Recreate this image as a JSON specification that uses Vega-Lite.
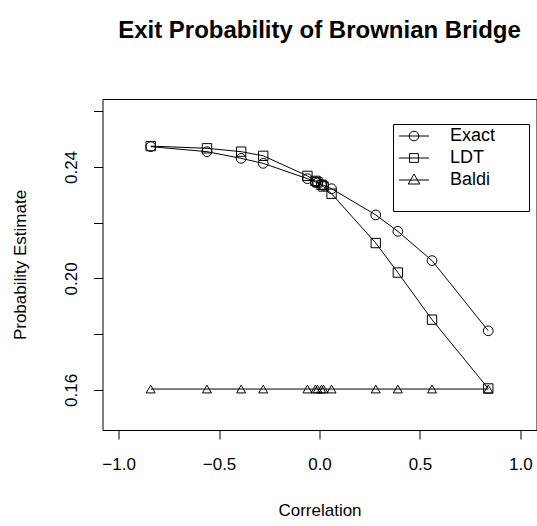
{
  "$schema": "https://vega.github.io/schema/vega-lite/v6.json",
  "width": 434,
  "height": 331,
  "autosize": {"type": "none"},
  "padding": {"left": 102.5, "top": 99, "right": 0.5, "bottom": 96},
  "background": "white",
  "config": {
    "font": "Liberation Sans",
    "view": {"stroke": "black", "strokeWidth": 1},
    "axis": {
      "grid": false,
      "domain": false,
      "ticks": true,
      "tickColor": "black",
      "tickSize": 9,
      "tickWidth": 1,
      "labelFont": "Liberation Sans",
      "labelFontSize": 17,
      "labelColor": "black",
      "titleFont": "Liberation Sans",
      "titleFontSize": 17,
      "titleFontWeight": "normal",
      "titleColor": "black"
    }
  },
  "title": {
    "text": "Exit Probability of Brownian Bridge",
    "font": "Liberation Sans",
    "fontSize": 24,
    "fontWeight": "bold",
    "color": "black",
    "anchor": "middle",
    "offset": 56
  },
  "data": {
    "values": [
      {"correlation": -0.84, "method": "Exact", "probability": 0.2473},
      {"correlation": -0.56, "method": "Exact", "probability": 0.2455},
      {"correlation": -0.39, "method": "Exact", "probability": 0.2431},
      {"correlation": -0.28, "method": "Exact", "probability": 0.2413},
      {"correlation": -0.06, "method": "Exact", "probability": 0.2358},
      {"correlation": -0.02, "method": "Exact", "probability": 0.2346},
      {"correlation": -0.01, "method": "Exact", "probability": 0.2343},
      {"correlation": 0.01, "method": "Exact", "probability": 0.2337},
      {"correlation": 0.02, "method": "Exact", "probability": 0.2334},
      {"correlation": 0.06, "method": "Exact", "probability": 0.2322},
      {"correlation": 0.28, "method": "Exact", "probability": 0.2228},
      {"correlation": 0.39, "method": "Exact", "probability": 0.2169},
      {"correlation": 0.56, "method": "Exact", "probability": 0.2064},
      {"correlation": 0.84, "method": "Exact", "probability": 0.1812},
      {"correlation": -0.84, "method": "LDT", "probability": 0.2475},
      {"correlation": -0.56, "method": "LDT", "probability": 0.2467},
      {"correlation": -0.39, "method": "LDT", "probability": 0.2455},
      {"correlation": -0.28, "method": "LDT", "probability": 0.244},
      {"correlation": -0.06, "method": "LDT", "probability": 0.2368},
      {"correlation": -0.02, "method": "LDT", "probability": 0.235},
      {"correlation": -0.01, "method": "LDT", "probability": 0.2345},
      {"correlation": 0.01, "method": "LDT", "probability": 0.2336},
      {"correlation": 0.02, "method": "LDT", "probability": 0.233},
      {"correlation": 0.06, "method": "LDT", "probability": 0.2304},
      {"correlation": 0.28, "method": "LDT", "probability": 0.2127},
      {"correlation": 0.39, "method": "LDT", "probability": 0.2021},
      {"correlation": 0.56, "method": "LDT", "probability": 0.1852},
      {"correlation": 0.84, "method": "LDT", "probability": 0.1605},
      {"correlation": -0.84, "method": "Baldi", "probability": 0.1603},
      {"correlation": -0.56, "method": "Baldi", "probability": 0.1603},
      {"correlation": -0.39, "method": "Baldi", "probability": 0.1603},
      {"correlation": -0.28, "method": "Baldi", "probability": 0.1603},
      {"correlation": -0.06, "method": "Baldi", "probability": 0.1603},
      {"correlation": -0.02, "method": "Baldi", "probability": 0.1603},
      {"correlation": -0.01, "method": "Baldi", "probability": 0.1603},
      {"correlation": 0.01, "method": "Baldi", "probability": 0.1603},
      {"correlation": 0.02, "method": "Baldi", "probability": 0.1603},
      {"correlation": 0.06, "method": "Baldi", "probability": 0.1603},
      {"correlation": 0.28, "method": "Baldi", "probability": 0.1603},
      {"correlation": 0.39, "method": "Baldi", "probability": 0.1603},
      {"correlation": 0.56, "method": "Baldi", "probability": 0.1603},
      {"correlation": 0.84, "method": "Baldi", "probability": 0.1603}
    ]
  },
  "encoding": {
    "x": {
      "field": "correlation",
      "type": "quantitative",
      "scale": {"domain": [-1.08, 1.08], "nice": false, "zero": false},
      "axis": {
        "values": [-1, -0.5, 0, 0.5, 1],
        "format": ".1f",
        "title": "Correlation",
        "labelPadding": 17,
        "titlePadding": 30
      }
    },
    "y": {
      "field": "probability",
      "type": "quantitative",
      "scale": {"domain": [0.1456, 0.2644], "nice": false, "zero": false},
      "axis": {
        "values": [0.16, 0.18, 0.2, 0.22, 0.24, 0.26],
        "labelExpr": "(abs(datum.value-0.18)<0.001 || abs(datum.value-0.22)<0.001 || abs(datum.value-0.26)<0.001) ? '' : format(datum.value, '.2f')",
        "labelAngle": -90,
        "labelAlign": "center",
        "labelBaseline": "bottom",
        "labelPadding": 13,
        "title": "Probability Estimate",
        "titlePadding": 33
      }
    }
  },
  "layer": [
    {
      "mark": {"type": "line", "color": "black", "strokeWidth": 1},
      "encoding": {
        "detail": {"field": "method", "type": "nominal"}
      }
    },
    {
      "mark": {"type": "point", "filled": false, "color": "black", "strokeWidth": 1, "opacity": 1},
      "encoding": {
        "shape": {
          "field": "method",
          "type": "nominal",
          "scale": {"domain": ["Exact", "LDT", "Baldi"], "range": ["circle", "square", "triangle-up"]},
          "legend": null
        },
        "size": {
          "field": "method",
          "type": "ordinal",
          "scale": {"domain": ["Exact", "LDT", "Baldi"], "range": [95, 80, 135]},
          "legend": null
        }
      }
    },
    {
      "mark": {"type": "point", "filled": false, "color": "black", "size": 256, "strokeWidth": 1, "opacity": 0},
      "encoding": {
        "shape": {
          "field": "method",
          "type": "nominal",
          "scale": {
            "domain": ["Exact", "LDT", "Baldi"],
            "range": [
              "M-1.875,0H1.875M0.6,0A0.6,0.6 0 1,1 -0.6,0A0.6,0.6 0 1,1 0.6,0",
              "M-1.875,0H1.875M-0.55,-0.55H0.55V0.55H-0.55Z",
              "M-1.875,0H1.875M0,-0.75L0.72,0.5H-0.72Z"
            ]
          },
          "legend": {
            "title": "\u2007",
            "titleOrient": "bottom",
            "titleFontSize": 12,
            "titlePadding": 8,
            "orient": "none",
            "legendX": 290.5,
            "legendY": 25,
            "strokeColor": "black",
            "padding": 3,
            "symbolOffset": 9,
            "symbolSize": 256,
            "symbolOpacity": 1,
            "symbolStrokeColor": "black",
            "symbolStrokeWidth": 1,
            "symbolFillColor": "transparent",
            "labelFont": "Liberation Sans",
            "labelFontSize": 18,
            "labelColor": "black",
            "labelOffset": 27,
            "labelExpr": "datum.label + '\u2007\u2007\u2007\u200b'",
            "rowPadding": 4
          }
        }
      }
    }
  ],
  "resolve": {"scale": {"shape": "independent", "size": "independent"}, "legend": {"shape": "independent"}}
}
